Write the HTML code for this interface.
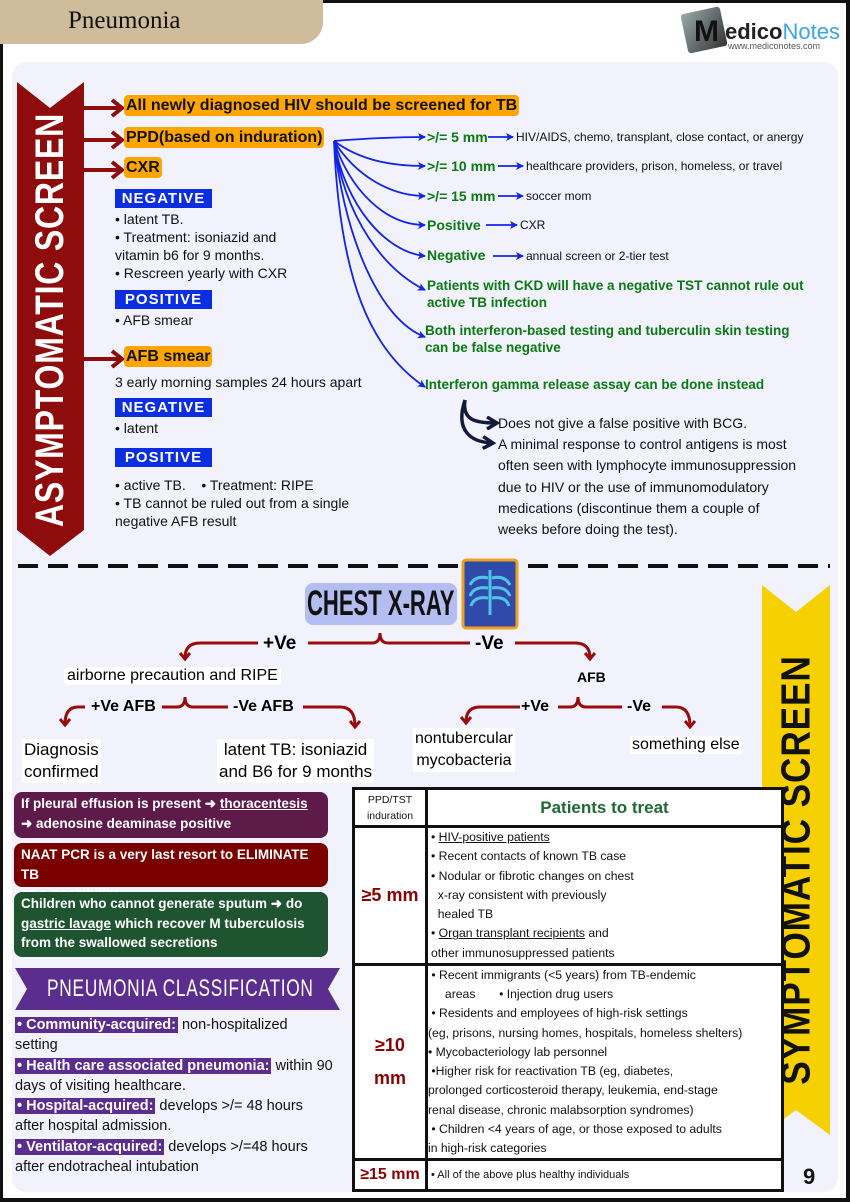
<!DOCTYPE html>
<html><head><meta charset="utf-8">
<style>
body{margin:0;width:850px;height:1202px;position:relative;background:#fff;font-family:"Liberation Sans",sans-serif;overflow:hidden}
.t{position:absolute;white-space:nowrap;line-height:1}
.b{font-weight:bold}
.or{background:#ffa500;border-radius:4px;padding:2px 2px;font-weight:bold;color:#111}
.bl{position:absolute;background:#0a2ee0;color:#fff;font-weight:bold;font-size:15px;text-align:center;line-height:19px;width:97px;height:19px;letter-spacing:1px}
.g{color:#0b7a12;font-weight:bold}
.k{color:#111}
.box{position:absolute;left:14px;width:314px;border-radius:8px;color:#fff;font-weight:bold;font-size:13.5px;line-height:19.5px;padding:2px 7px;box-sizing:border-box}
.pl{background:#5b2d8e;color:#fff;font-weight:bold;padding:0 2px}
td{border:3px solid #111;padding:0;vertical-align:middle}
</style></head><body>
<div style="position:absolute;left:0;top:0;width:3px;height:1202px;background:#111"></div>
<div style="position:absolute;right:0;top:0;width:4px;height:1202px;background:#111"></div>
<div style="position:absolute;left:0;top:0;width:850px;height:3px;background:#111"></div>
<div style="position:absolute;left:0;bottom:0;width:850px;height:4px;background:#111"></div>
<div style="position:absolute;left:0;top:0;width:323px;height:44px;background:#cfbc9a;border-bottom-right-radius:22px"></div>
<div class="t" style="left:68px;top:8px;font-size:25px;font-family:'Liberation Serif',serif;color:#111">Pneumonia</div>
<div style="position:absolute;left:684px;top:10px;width:40px;height:40px;background:linear-gradient(135deg,#9aa,#333);transform:rotate(-12deg);border-radius:3px"></div>
<div class="t b" style="left:694px;top:17px;font-size:30px;color:#111">M</div>
<div class="t" style="left:725px;top:21px;font-size:22px;color:#222;font-weight:bold">edico<span style="color:#3aa5e8;font-weight:normal">Notes</span></div>
<div class="t" style="left:728px;top:42px;font-size:9px;color:#555">www.mediconotes.com</div>
<div style="position:absolute;left:12px;top:62px;width:826px;height:1130px;background:#f1f2fc;border-radius:14px"></div>

<svg style="position:absolute;left:0;top:0" width="850" height="1202">
<defs>
<marker id="ab" markerWidth="8" markerHeight="8" refX="7" refY="4" orient="auto" markerUnits="userSpaceOnUse"><path d="M0,0 L8,4 L0,8 L2,4z" fill="#1224e6"/></marker>
<marker id="ar" markerWidth="12" markerHeight="12" refX="6" refY="6" orient="auto" markerUnits="userSpaceOnUse"><path d="M1,1 L7,6 L1,11" fill="none" stroke="#9a0c0c" stroke-width="3"/></marker>
<marker id="an" markerWidth="14" markerHeight="14" refX="10" refY="7" orient="auto" markerUnits="userSpaceOnUse"><path d="M1,1 L11,7 L1,13" fill="none" stroke="#141a3a" stroke-width="3.5"/></marker>
</defs>
<polygon points="17,82 50,108 84,82 84,530 50,556 17,530" fill="#8e0c0c"/>
<g stroke="#8e0c0c" stroke-width="4" fill="none">
<path d="M84,108 H120"/><path d="M112,100 L122,108 L112,116"/>
<path d="M84,140 H120"/><path d="M112,132 L122,140 L112,148"/>
<path d="M84,170 H120"/><path d="M112,162 L122,170 L112,178"/>
<path d="M84,359 H120"/><path d="M112,351 L122,359 L112,367"/>
</g>
<g stroke="#1224e6" stroke-width="1.8" fill="none" marker-end="url(#ab)">
<path d="M334,141 C360,139 390,137 425,137"/>
<path d="M334,141 C360,160 390,166 425,166"/>
<path d="M334,141 C355,175 390,196 425,196"/>
<path d="M334,141 C350,190 385,225 425,225"/>
<path d="M334,141 C345,205 385,252 425,256"/>
<path d="M334,141 C345,220 385,270 425,290"/>
<path d="M334,141 C345,240 380,320 425,337"/>
<path d="M334,141 C340,280 370,350 425,387"/>
<path d="M488,137 H513"/><path d="M498,166 H523"/><path d="M498,196 H523"/><path d="M486,225 H517"/><path d="M493,256 H523"/>
</g>
<g stroke="#141a3a" stroke-width="3.5" fill="none" marker-end="url(#an)">
<path d="M465,400 C462,420 475,423 496,423"/>
<path d="M465,400 C455,430 470,442 492,443"/>
</g>
<line x1="18" y1="566" x2="830" y2="566" stroke="#111" stroke-width="4" stroke-dasharray="20,10"/>
<g stroke="#9a0c0c" stroke-width="3" fill="none">
<path d="M258,643 H200 Q185,643 185,658" marker-end="url(#ar)"/>
<path d="M308,643 H372 Q380,643 380,633 Q380,643 388,643 H470"/>
<path d="M515,643 H575 Q590,643 590,658" marker-end="url(#ar)"/>
<path d="M85,707 H78 Q65,707 65,724" marker-end="url(#ar)"/>
<path d="M162,707 H177 Q185,707 185,697 Q185,707 193,707 H228"/>
<path d="M303,707 H340 Q355,707 355,726" marker-end="url(#ar)"/>
<path d="M520,707 H480 Q466,707 466,722" marker-end="url(#ar)"/>
<path d="M558,707 H570 Q578,707 578,697 Q578,707 586,707 H622"/>
<path d="M662,707 H676 Q690,707 690,726" marker-end="url(#ar)"/>
</g>
<polygon points="762,585 796,612 830,585 830,1135 796,1110 762,1135" fill="#f6d000"/>
<polygon points="15,968 340,968 328,989 340,1010 15,1010 27,989" fill="#5b2d8e"/>
<rect x="463" y="560" width="54" height="68" rx="3" fill="#2f4aa8" stroke="#f0a020" stroke-width="3"/>
<g stroke="#4fc3e8" stroke-width="3" fill="none">
<path d="M490,570 V615"/><path d="M488,578 Q475,575 470,585"/><path d="M492,578 Q505,575 510,585"/>
<path d="M488,588 Q474,586 470,596"/><path d="M492,588 Q506,586 510,596"/>
<path d="M488,598 Q474,596 471,606"/><path d="M492,598 Q506,596 509,606"/>
</g>
</svg>

<div class="t b" style="left:50px;top:320px;transform:translate(-50%,-50%) rotate(-90deg) scaleX(0.8);font-size:40px;color:#fff;letter-spacing:1px">ASYMPTOMATIC SCREEN</div>
<div class="t b" style="left:796px;top:870px;transform:translate(-50%,-50%) rotate(-90deg) scaleX(0.86);font-size:41px;color:#111;letter-spacing:1px">SYMPTOMATIC SCREEN</div>

<div class="t" style="left:124px;top:98px;font-size:16px"><span class="or">All newly diagnosed HIV should be screened for TB</span></div>
<div class="t" style="left:124px;top:130px;font-size:16px"><span class="or">PPD(based on induration)</span></div>
<div class="t" style="left:124px;top:160px;font-size:16px"><span class="or">CXR</span></div>
<div class="bl" style="left:115px;top:189px">NEGATIVE</div>
<div class="t k" style="left:115px;top:210px;font-size:14px;line-height:18px">• latent TB.<br>• Treatment: isoniazid and<br>vitamin b6 for 9 months.<br>• Rescreen yearly with CXR</div>
<div class="bl" style="left:115px;top:290px">POSITIVE</div>
<div class="t k" style="left:115px;top:313px;font-size:14px">• AFB smear</div>
<div class="t" style="left:124px;top:349px;font-size:16px"><span class="or">AFB smear</span></div>
<div class="t k" style="left:115px;top:375px;font-size:14px">3 early morning samples 24 hours apart</div>
<div class="bl" style="left:115px;top:398px">NEGATIVE</div>
<div class="t k" style="left:115px;top:421px;font-size:14px">• latent</div>
<div class="bl" style="left:115px;top:448px">POSITIVE</div>
<div class="t k" style="left:115px;top:476px;font-size:14px;line-height:18px">• active TB. &nbsp;&nbsp;&nbsp;• Treatment: RIPE<br>• TB cannot be ruled out from a single<br>negative AFB result</div>

<div class="t g" style="left:427px;top:130px;font-size:14px">&gt;/= 5 mm</div>
<div class="t k" style="left:516px;top:131px;font-size:12px">HIV/AIDS, chemo, transplant, close contact, or anergy</div>
<div class="t g" style="left:427px;top:159px;font-size:14px">&gt;/= 10 mm</div>
<div class="t k" style="left:526px;top:160px;font-size:12px">healthcare providers, prison, homeless, or travel</div>
<div class="t g" style="left:427px;top:189px;font-size:14px">&gt;/= 15 mm</div>
<div class="t k" style="left:526px;top:190px;font-size:12px">soccer mom</div>
<div class="t g" style="left:427px;top:218px;font-size:14px">Positive</div>
<div class="t k" style="left:520px;top:219px;font-size:12px">CXR</div>
<div class="t g" style="left:427px;top:248px;font-size:14px">Negative</div>
<div class="t k" style="left:526px;top:250px;font-size:12px">annual screen or 2-tier test</div>
<div class="t g" style="left:427px;top:277px;font-size:13.5px;line-height:17px">Patients with CKD will have a negative TST cannot rule out<br>active TB infection</div>
<div class="t g" style="left:425px;top:322px;font-size:13.5px;line-height:17px">Both interferon-based testing and tuberculin skin testing<br>can be false negative</div>
<div class="t g" style="left:425px;top:378px;font-size:13.5px">Interferon gamma release assay can be done instead</div>
<div class="t k" style="left:498px;top:413px;font-size:14px;line-height:21.2px">Does not give a false positive with BCG.<br>A minimal response to control antigens is most<br>often seen with lymphocyte immunosuppression<br>due to HIV or the use of immunomodulatory<br>medications (discontinue them a couple of<br>weeks before doing the test).</div>

<div style="position:absolute;left:305px;top:583px;width:152px;height:42px;background:#b4bdf2;border-radius:8px"></div>
<div class="t b" style="left:307px;top:586px;font-size:35px;color:#111;transform:scaleX(0.63);transform-origin:left top">CHEST X-RAY</div>
<div class="t b" style="left:263px;top:634px;font-size:19px">+Ve</div>
<div class="t b" style="left:475px;top:634px;font-size:19px">-Ve</div>
<div class="t" style="left:64px;top:667px;font-size:16px;background:#fff;padding:1px 3px;border-radius:4px">airborne precaution and RIPE</div>
<div class="t b" style="left:577px;top:670px;font-size:14px">AFB</div>
<div class="t b" style="left:91px;top:699px;font-size:16px">+Ve AFB</div>
<div class="t b" style="left:233px;top:699px;font-size:16px">-Ve AFB</div>
<div class="t b" style="left:521px;top:699px;font-size:16px">+Ve</div>
<div class="t b" style="left:627px;top:699px;font-size:16px">-Ve</div>
<div class="t" style="left:22px;top:739px;font-size:17px;line-height:22px;text-align:center;background:#fff;padding:0 2px">Diagnosis<br>confirmed</div>
<div class="t" style="left:217px;top:739px;font-size:17px;line-height:22px;text-align:center;background:#fff;padding:0 2px">latent TB: isoniazid<br>and B6 for 9 months</div>
<div class="t" style="left:413px;top:728px;font-size:16px;line-height:22px;text-align:center;background:#fff;padding:0 2px">nontubercular<br>mycobacteria</div>
<div class="t" style="left:630px;top:736px;font-size:16px;background:#fff;padding:1px 2px">something else</div>

<div class="box" style="top:792px;height:46px;background:#5e1a48">If pleural effusion is present ➜ <u>thoracentesis</u><br>➜ adenosine deaminase positive</div>
<div class="box" style="top:843px;height:44px;background:#7a0000">NAAT PCR is a very last resort to ELIMINATE TB<br>as a possibility</div>
<div class="box" style="top:892px;height:65px;background:#1f5430">Children who cannot generate sputum ➜ do<br><u>gastric lavage</u> which recover M tuberculosis<br>from the swallowed secretions</div>
<div class="t" style="left:47px;top:977px;font-size:24px;color:#fff;letter-spacing:1px;transform:scaleX(0.72);transform-origin:left top">PNEUMONIA CLASSIFICATION</div>
<div class="t k" style="left:15px;top:1015px;font-size:14.5px;line-height:20.3px"><span class="pl">• Community-acquired:</span> non-hospitalized<br>setting<br><span class="pl">• Health care associated pneumonia:</span> within 90<br>days of visiting healthcare.<br><span class="pl">• Hospital-acquired:</span> develops &gt;/= 48 hours<br>after hospital admission.<br><span class="pl">• Ventilator-acquired:</span> develops &gt;/=48 hours<br>after endotracheal intubation</div>

<table style="position:absolute;left:352px;top:787px;width:432px;height:402px;border-collapse:collapse;background:#fff;font-size:12.2px;color:#111">
<tr style="height:38px"><td style="width:70px;text-align:center;font-size:10.5px;line-height:16px">PPD/TST<br>induration</td><td style="text-align:center;color:#1d6b32;font-weight:bold;font-size:17px">Patients to treat</td></tr>
<tr style="height:137px"><td style="text-align:center;color:#8b0000;font-weight:bold;font-size:18px">≥5 mm</td><td style="line-height:19.3px;padding-left:3px">• <u>HIV-positive patients</u><br>• Recent contacts of known TB case<br>• Nodular or fibrotic changes on chest<br>&nbsp;&nbsp;x-ray consistent with previously<br>&nbsp;&nbsp;healed TB<br>• <u>Organ transplant recipients</u> and<br>other immunosuppressed patients</td></tr>
<tr style="height:195px"><td style="text-align:center;color:#8b0000;font-weight:bold;font-size:18px;line-height:33px">≥10<br>mm</td><td style="line-height:19.2px;padding-left:0">&nbsp;• Recent immigrants (&lt;5 years) from TB-endemic<br>&nbsp;&nbsp;&nbsp;&nbsp;&nbsp;areas &nbsp;&nbsp;&nbsp;&nbsp;&nbsp;&nbsp;• Injection drug users<br>&nbsp;• Residents and employees of high-risk settings<br>(eg, prisons, nursing homes, hospitals, homeless shelters)<br>• Mycobacteriology lab personnel<br>&nbsp;•Higher risk for reactivation TB (eg, diabetes,<br>prolonged corticosteroid therapy, leukemia, end-stage<br>renal disease, chronic malabsorption syndromes)<br>&nbsp;• Children &lt;4 years of age, or those exposed to adults<br>in high-risk categories</td></tr>
<tr style="height:31px"><td style="text-align:center;color:#8b0000;font-weight:bold;font-size:16px">≥15 mm</td><td style="font-size:11px;padding-left:3px">• All of the above plus healthy individuals</td></tr>
</table>
<div class="t b" style="left:803px;top:1166px;font-size:22px;color:#111">9</div>
</body></html>
